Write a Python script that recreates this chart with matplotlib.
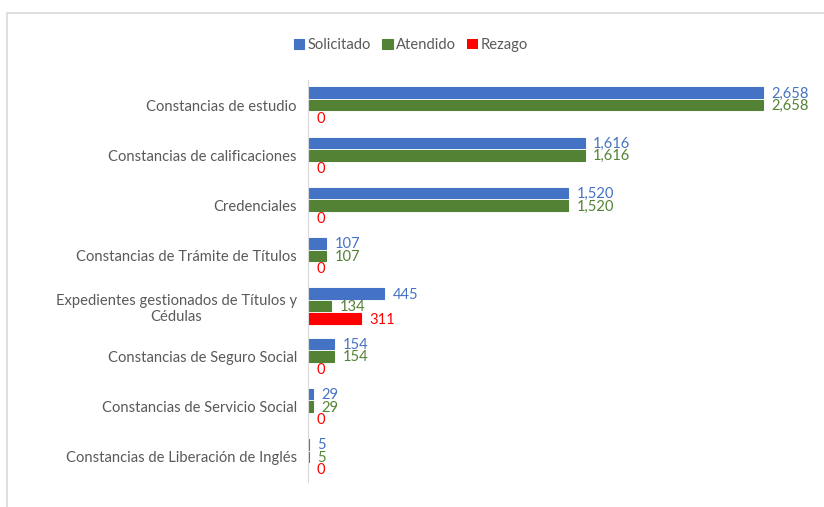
import matplotlib.pyplot as plt
from matplotlib.patches import Rectangle
import numpy as np

plt.rcParams['font.family'] = ['Lato', 'DejaVu Sans']

categories = ['Constancias de estudio', 'Constancias de calificaciones', 'Credenciales',
              'Constancias de Trámite de Títulos',
              'Expedientes gestionados de Títulos y\nCédulas',
              'Constancias de Seguro Social', 'Constancias de Servicio Social',
              'Constancias de Liberación de Inglés']
solicitado = [2658, 1616, 1520, 107, 445, 154, 29, 5]
atendido = [2658, 1616, 1520, 107, 134, 154, 29, 5]
rezago = [0, 0, 0, 0, 311, 0, 0, 0]

series = [('Solicitado', solicitado, '#4472C4'),
          ('Atendido', atendido, '#548235'),
          ('Rezago', rezago, '#FF0000')]

fig = plt.figure(figsize=(8.24, 5.07), dpi=100)
# chart border
fig.patches.append(Rectangle((7 / 824, -0.1), 1.2, (507 - 13) / 507 + 0.1,
                             transform=fig.transFigure, fill=False,
                             edgecolor='#D9D9D9', linewidth=1.2))

ax = fig.add_axes([308 / 824, 25 / 507, 513.5 / 824, 402 / 507])
y = np.arange(len(categories))
h = 0.21
step = 0.25
for i, (name, vals, col) in enumerate(series):
    pos = y + (i - 1) * step
    bars = ax.barh(pos, vals, height=h, color=col, label=name)
    for b, v in zip(bars, vals):
        if v > 0:
            b.set_edgecolor(col)
            b.set_linewidth(0.8)
    for p, v in zip(pos, vals):
        ax.text(v + 50, p + 0.02, f'{v:,}', color=col, fontsize=10.6, va='center', ha='left')

ax.set_xlim(0, 3000)
ax.set_ylim(len(categories) - 0.5, -0.5)
ax.set_yticks(y)
ax.set_yticklabels(categories, fontsize=10.6, color='#595959', multialignment='center')
ax.tick_params(axis='y', length=0, pad=8)
ax.set_xticks([])
for s in ['top', 'right', 'bottom']:
    ax.spines[s].set_visible(False)
ax.spines['left'].set_color('#D9D9D9')

fig.legend(loc='center', bbox_to_anchor=(411 / 824, 1 - 45 / 507), ncol=3, frameon=False,
           fontsize=10.6, handlelength=0.7, handleheight=0.7, handletextpad=0.2,
           columnspacing=0.8, labelcolor='#595959')

fig.savefig('out.png', dpi=100)
